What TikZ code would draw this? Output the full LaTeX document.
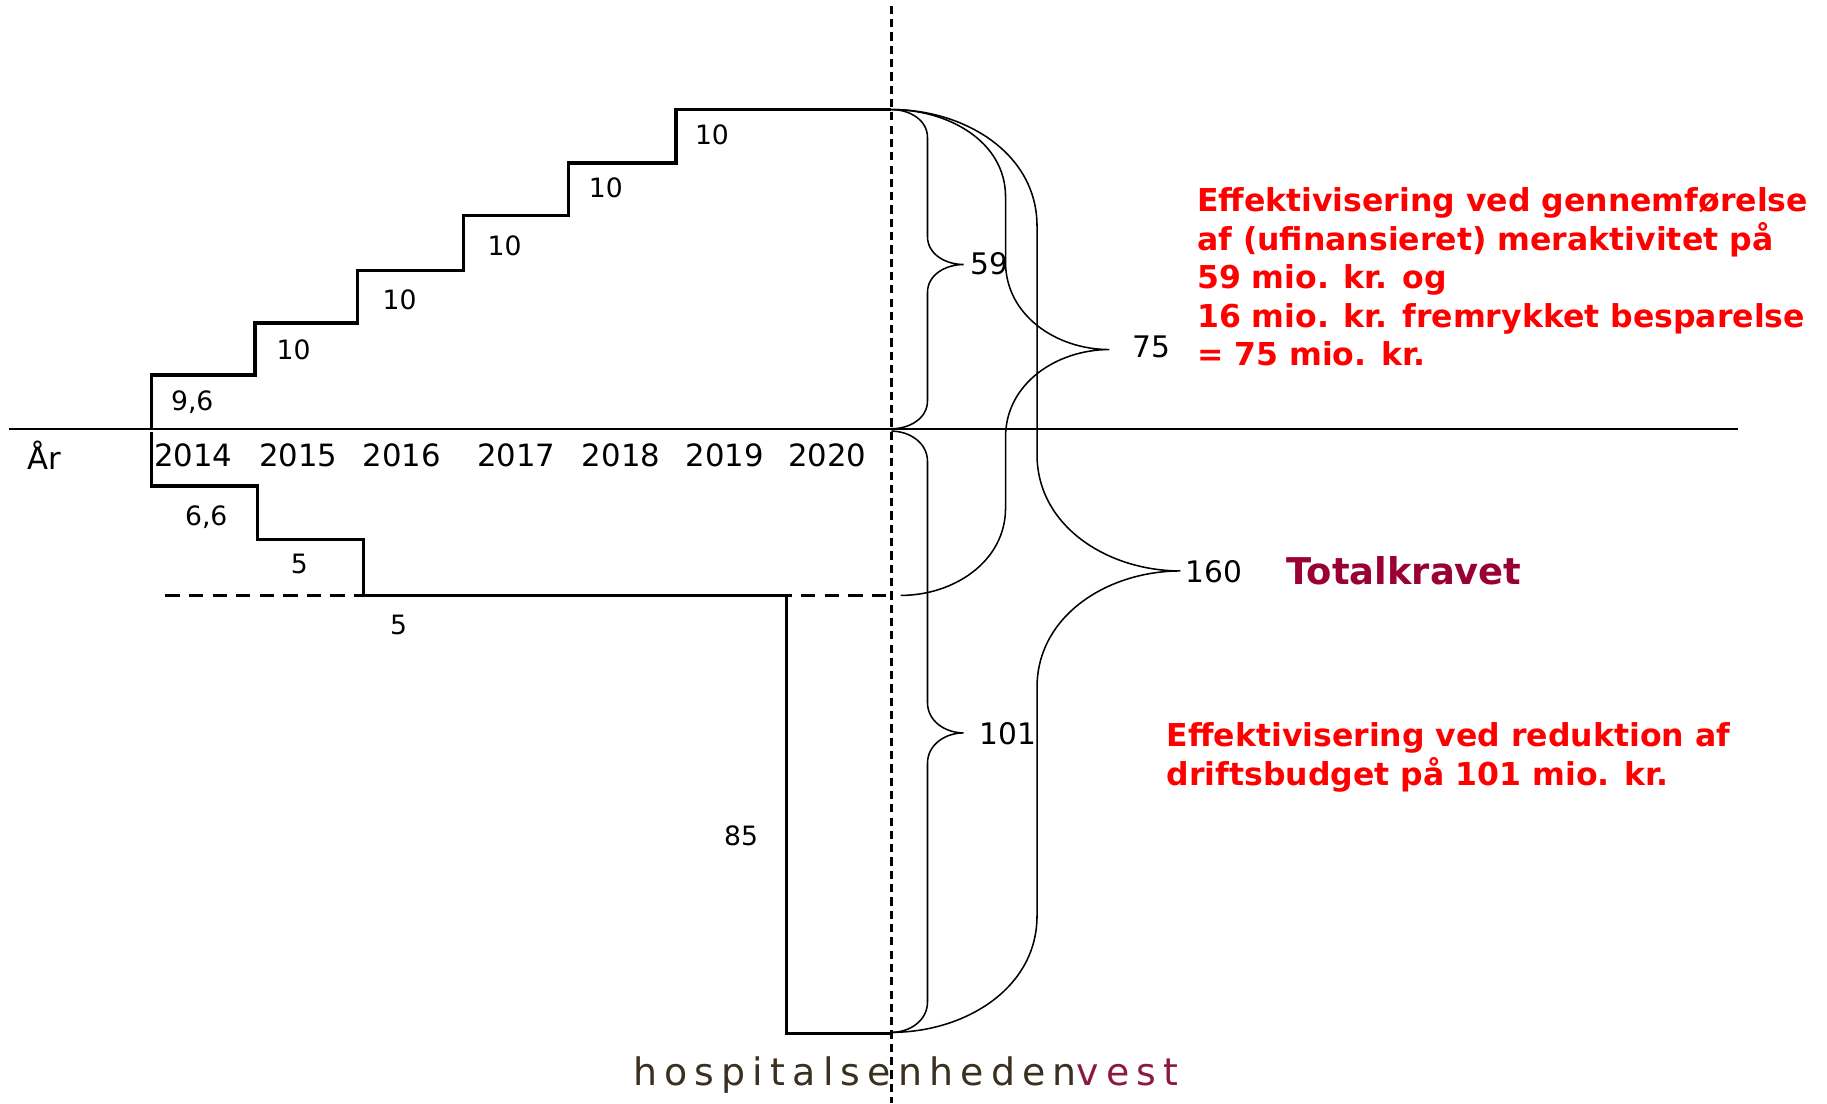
\documentclass[tikz,border=0pt]{standalone}
\usepackage{fontspec}
\setmainfont{DejaVu Sans}
\definecolor{kravred}{RGB}{153,0,51}
\definecolor{logobrown}{RGB}{58,48,32}
\definecolor{logovest}{RGB}{140,25,65}
\tikzset{
  stairs/.style={line width=1.7pt},
  braceline/.style={line width=0.75pt},
  yearlbl/.style={font=\fontsize{15}{18}\selectfont},
  steplbl/.style={font=\fontsize{13}{15}\selectfont},
  sumlbl/.style={font=\fontsize{14.5}{17}\selectfont},
  redtxt/.style={text=red, font=\bfseries\fontsize{15.4}{18.8}\selectfont, align=left, anchor=north west, inner sep=0pt},
}

\begin{document}
\begin{tikzpicture}[x=0.02cm,y=-0.02cm]
	\useasboundingbox (0,0) rectangle (1568,947);

	% axes
	\draw[line width=0.8pt] (8,368) -- (1492,368);
	\draw[line width=1.2pt, dash pattern=on 4pt off 2.5pt] (765,5) -- (765,947);

	% upper staircase
	\draw[stairs] (130,368) -- (130,322) -- (219,322) -- (219,277) -- (307,277) -- (307,232) -- (398,232) -- (398,185) -- (488,185) -- (488,140) -- (580,140) -- (580,94) -- (765,94);

	% lower staircase
	\draw[line width=1.4pt, dash pattern=on 7pt off 4.5pt] (142,511) -- (765,511);
	\draw[stairs] (130,371) -- (130,417) -- (221,417) -- (221,463) -- (312,463) -- (312,511) -- (675,511) -- (675,887) -- (765,887);

	\node[steplbl] (s1) at (165,345) {9,6};
	\node[steplbl] (s2) at (252,300) {10};
	\node[steplbl] (s3) at (343,257) {10};
	\node[steplbl] (s4) at (433,211) {10};
	\node[steplbl] (s5) at (520,161) {10};
	\node[steplbl] (s6) at (611,116) {10};

	\node[steplbl] (r1) at (177,444) {6,6};
	\node[steplbl] (r2) at (257,484) {5};
	\node[steplbl] (r3) at (342,536) {5};
	\node[steplbl] (r4) at (636,717) {85};

	\node[yearlbl] (aar) at (38,391) {År};
	\node[yearlbl] (y14) at (166,391) {2014};
	\node[yearlbl] (y15) at (256,391) {2015};
	\node[yearlbl] (y16) at (345,391) {2016};
	\node[yearlbl] (y17) at (443,391) {2017};
	\node[yearlbl] (y18) at (533,391) {2018};
	\node[yearlbl] (y19) at (622,391) {2019};
	\node[yearlbl] (y20) at (710,391) {2020};

	% braces
	\coordinate (top) at (765,94);
	\coordinate (mid) at (765,370);
	\coordinate (bot) at (765,886);
	\coordinate (tip59) at (827,227);
	\coordinate (tip101) at (827,629);
	\coordinate (tip75) at (952,300);
	\coordinate (tip160) at (1013,490);

	\draw[braceline] (top) to[out=0,in=90] (796,118) -- (796,203) to[out=-90,in=180] (tip59)
		to[out=180,in=90] (796,251) -- (796,344) to[out=-90,in=0] (765,368);
	\draw[braceline] (mid) to[out=0,in=90] (796,396) -- (796,603) to[out=-90,in=180] (tip101)
		to[out=180,in=90] (796,655) -- (796,860) to[out=-90,in=0] (bot);
	\draw[braceline] (top) to[out=0,in=90] (863,169) -- (863,225) to[out=-90,in=180] (tip75)
		to[out=180,in=90] (863,375) -- (863,436) to[out=-90,in=0] (773,511);
	\draw[braceline] (top) to[out=0,in=90] (890,194) -- (890,390) to[out=-90,in=180] (tip160)
		to[out=180,in=90] (890,590) -- (890,786) to[out=-90,in=0] (bot);

	\node[sumlbl] (n59) at (849,226) {59};
	\node[sumlbl] (n75) at (988,298) {75};
	\node[sumlbl] (n160) at (1042,491) {160};
	\node[sumlbl] (n101) at (865,630) {101};

	\node[redtxt] (txt75) at (1027,161) {Effektivisering ved gennemførelse\\af (ufinansieret) meraktivitet på\\59 mio. kr. og\\16 mio. kr. fremrykket besparelse\\= 75 mio. kr.};
	\node[text=kravred, font=\bfseries\fontsize{18}{21}\selectfont] (krav) at (1205,490) {Totalkravet};
	\node[redtxt] (txt101) at (1001,620) {Effektivisering ved reduktion af\\driftsbudget på 101 mio. kr.};

	\node[anchor=base west, inner sep=0pt, text=logobrown, font=\fontsize{18.5}{20}\selectfont] (logo) at (543,932) {\addfontfeature{LetterSpace=19}hospitalsenheden\textcolor{logovest}{vest}};

\end{tikzpicture}
\end{document}
